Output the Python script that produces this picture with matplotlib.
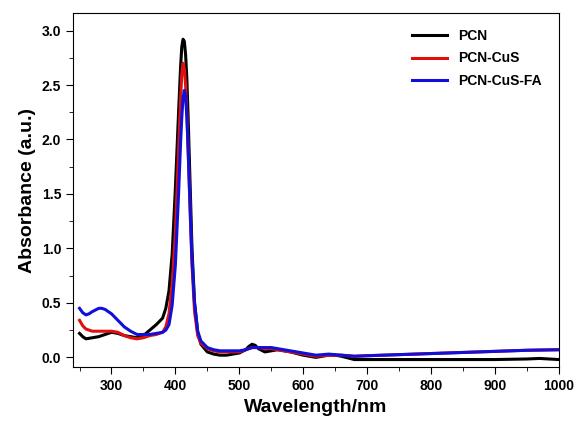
import numpy as np
import matplotlib.pyplot as plt
from matplotlib.ticker import MultipleLocator

plt.rcParams['font.family'] = ['Liberation Sans', 'DejaVu Sans']
plt.rcParams['font.weight'] = 'bold'

# PCN
wl_pcn = [250, 255, 260, 270, 280, 290, 300, 310, 320, 330, 340, 350, 360, 370, 380,
          385, 390, 395, 400, 405, 408, 410, 412, 414, 416, 418, 420, 423, 426, 430,
          435, 440, 450, 460, 470, 480, 490, 500, 510, 515, 520, 525, 530, 540, 550,
          560, 570, 580, 600, 610, 620, 630, 640, 650, 660, 680, 700, 750, 800, 850,
          900, 950, 970, 1000]
ab_pcn = [0.22, 0.19, 0.17, 0.18, 0.19, 0.21, 0.23, 0.22, 0.20, 0.19, 0.18, 0.20, 0.25, 0.30, 0.36,
          0.45, 0.61, 0.95, 1.55, 2.25, 2.65, 2.85, 2.92, 2.90, 2.78, 2.55, 2.20, 1.60, 1.00, 0.50,
          0.22, 0.12, 0.05, 0.03, 0.02, 0.02, 0.03, 0.04, 0.07, 0.10, 0.12, 0.11, 0.08, 0.05, 0.06,
          0.07, 0.06, 0.05, 0.02, 0.01, 0.00, 0.01, 0.02, 0.02, 0.01, -0.02, -0.02, -0.02, -0.02, -0.02,
          -0.02, -0.015, -0.01, -0.02]

# PCN-CuS
wl_cus = [250, 255, 260, 270, 280, 290, 300, 310, 320, 330, 340, 350, 360, 370, 380,
          385, 390, 395, 400, 405, 408, 410, 412, 414, 416, 418, 420, 423, 426, 430,
          435, 440, 450, 460, 470, 480, 500, 510, 520, 530, 540, 550, 560, 580, 600,
          620, 640, 660, 680, 700, 750, 800, 850, 900, 950, 1000]
ab_cus = [0.34, 0.29, 0.26, 0.24, 0.24, 0.24, 0.24, 0.23, 0.20, 0.18, 0.17, 0.18, 0.20, 0.21, 0.23,
          0.28, 0.40, 0.68, 1.15, 1.90, 2.35, 2.60, 2.70, 2.65, 2.50, 2.25, 1.90, 1.35, 0.85, 0.42,
          0.20, 0.13, 0.08, 0.06, 0.05, 0.05, 0.05, 0.07, 0.09, 0.09, 0.08, 0.08, 0.07, 0.05, 0.03,
          0.01, 0.02, 0.02, 0.01, 0.015, 0.025, 0.035, 0.045, 0.055, 0.065, 0.07]

# PCN-CuS-FA
wl_fa = [250, 255, 260, 265, 270, 280, 285, 290, 300, 310, 320, 330, 340, 350, 360, 370, 380,
         385, 390, 395, 400, 405, 408, 410, 412, 414, 416, 418, 420, 423, 426, 430,
         435, 440, 450, 460, 470, 480, 500, 510, 520, 530, 540, 550, 560, 580, 600,
         620, 640, 660, 680, 700, 750, 800, 850, 900, 950, 1000]
ab_fa = [0.45, 0.41, 0.39, 0.40, 0.42, 0.45, 0.45, 0.44, 0.40, 0.34, 0.28, 0.24, 0.21, 0.21, 0.21, 0.22, 0.23,
         0.25, 0.30, 0.48, 0.85, 1.50, 1.95, 2.20, 2.38, 2.45, 2.40, 2.20, 1.90, 1.40, 0.90, 0.50,
         0.24, 0.15, 0.09, 0.07, 0.06, 0.06, 0.06, 0.07, 0.09, 0.09, 0.09, 0.09, 0.08, 0.06, 0.04,
         0.02, 0.03, 0.02, 0.01, 0.015, 0.025, 0.035, 0.045, 0.055, 0.065, 0.07]

fig = plt.figure(figsize=(5.76, 4.23), dpi=100)
ax = fig.add_axes([0.127, 0.132, 0.843, 0.837])

ax.plot(wl_pcn, ab_pcn, color='black', lw=2.2, label='PCN')
ax.plot(wl_cus, ab_cus, color='#e01010', lw=2.2, label='PCN-CuS')
ax.plot(wl_fa, ab_fa, color='#1010d8', lw=2.2, label='PCN-CuS-FA')

ax.set_xlim(240, 1000)
ax.set_ylim(-0.09, 3.16)
ax.xaxis.set_major_locator(MultipleLocator(100))
ax.xaxis.set_minor_locator(MultipleLocator(50))
ax.yaxis.set_major_locator(MultipleLocator(0.5))
ax.yaxis.set_minor_locator(MultipleLocator(0.25))
ax.set_yticks(np.arange(0, 3.01, 0.5))
ax.set_xticks(np.arange(300, 1001, 100))
ax.tick_params(which='both', direction='out', labelsize=10)
ax.tick_params(which='major', length=5)
ax.tick_params(which='minor', length=3)

ax.set_xlabel('Wavelength/nm', fontsize=14, fontweight='bold')
ax.set_ylabel('Absorbance (a.u.)', fontsize=14, fontweight='bold')

ax.legend(loc='upper right', frameon=False, fontsize=10, handlelength=2.5,
          bbox_to_anchor=(0.99, 0.99), labelspacing=0.6)

fig.savefig('out.png')
